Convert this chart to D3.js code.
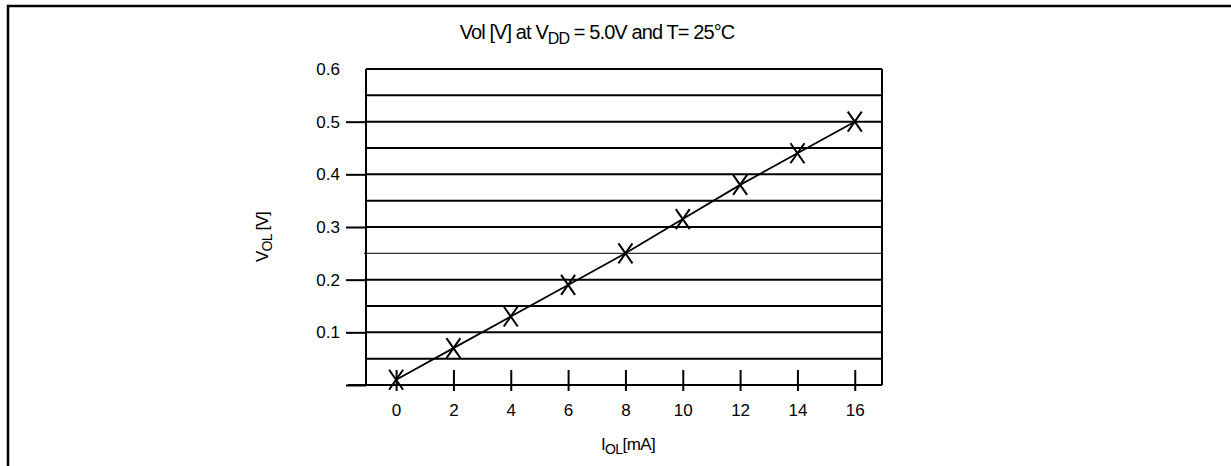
<!DOCTYPE html>
<html>
<head>
<meta charset="utf-8">
<script src="https://cdn.jsdelivr.net/npm/d3@7"></script>
<style>
  body { margin: 0; background: #fff; }
  svg { display: block; font-family: "Liberation Sans", Arial, sans-serif; }
</style>
</head>
<body>
<svg id="chart" width="1231" height="466"></svg>
<script>
// measured data: output low voltage vs sink current
const currents = [0, 2, 4, 6, 8, 10, 12, 14, 16];
const voltages = [0.01, 0.07, 0.13, 0.19, 0.25, 0.315, 0.38, 0.44, 0.5];
const yTicks = [0.1, 0.2, 0.3, 0.4, 0.5, 0.6];
const yMinor = [0.05, 0.15, 0.35, 0.45, 0.55];
const yMarked = [0.25];

const w = 1231;
const h = 466;
const plot = { left: 366, right: 882, top: 69, bottom: 385 };

const svg = d3.select('#chart');

// outer frame (cut off at the bottom and right)
svg.append('path')
  .attr('d', `M8,466 V6 H${w}`)
  .attr('fill', 'none')
  .attr('stroke', '#000')
  .attr('stroke-width', 2.5);

const x = d3.scaleLinear()
  .domain([-1.05, 16.95])
  .range([plot.left, plot.right]);
const y = d3.scaleLinear()
  .domain([0, 0.6])
  .range([plot.bottom, plot.top]);

// grid lines
svg.append('g')
  .selectAll('line')
  .data(yTicks.concat(yMinor))
  .enter()
  .append('line')
  .attr('x1', plot.left)
  .attr('x2', plot.right)
  .attr('y1', (d) => y(d))
  .attr('y2', (d) => y(d))
  .attr('stroke', '#000')
  .attr('stroke-width', 2);

svg.append('g')
  .selectAll('line')
  .data(yMarked)
  .enter()
  .append('line')
  .attr('x1', plot.left - 2)
  .attr('x2', plot.right)
  .attr('y1', (d) => y(d))
  .attr('y2', (d) => y(d))
  .attr('stroke', '#333')
  .attr('stroke-width', 1.2);

// right border
svg.append('line')
  .attr('x1', plot.right)
  .attr('x2', plot.right)
  .attr('y1', plot.top)
  .attr('y2', plot.bottom)
  .attr('stroke', '#000')
  .attr('stroke-width', 2);

// y axis
const yAxis = svg.append('g')
  .attr('transform', `translate(${plot.left}, 0)`)
  .call(d3.axisLeft(y)
    .tickValues([0].concat(yTicks.slice(0, 5)))
    .tickSize(20)
    .tickPadding(6)
    .tickFormat(() => ''));
yAxis.select('.domain').remove();
yAxis.append('line')
  .attr('y1', plot.top)
  .attr('y2', plot.bottom)
  .attr('stroke', '#000')
  .attr('stroke-width', 2);
yAxis.selectAll('.tick line').attr('stroke-width', 2);

svg.append('g')
  .selectAll('text')
  .data(yTicks)
  .enter()
  .append('text')
  .attr('x', plot.left - 26)
  .attr('y', (d) => y(d) + 6)
  .attr('text-anchor', 'end')
  .style('font-size', '17px')
  .text((d) => d3.format('.1f')(d));

// x axis
const xAxis = svg.append('g')
  .attr('transform', `translate(0, ${plot.bottom})`)
  .call(d3.axisBottom(x)
    .tickValues(currents)
    .tickSizeInner(6)
    .tickSizeOuter(0)
    .tickPadding(13)
    .tickFormat(d3.format('d')));
xAxis.select('.domain').remove();
xAxis.append('line')
  .attr('x1', plot.left - 18)
  .attr('x2', plot.right)
  .attr('stroke', '#000')
  .attr('stroke-width', 2);
xAxis.selectAll('.tick line')
  .attr('y1', -15)
  .attr('y2', 6)
  .attr('stroke-width', 2);
xAxis.selectAll('.tick text')
  .style('font-size', '17px')
  .attr('fill', '#000');

// fitted line through the points
svg.append('path')
  .datum(currents.map((c, i) => [c, voltages[i]]))
  .attr('fill', 'none')
  .attr('stroke', '#000')
  .attr('stroke-width', 1.8)
  .attr('d', d3.line()
    .x((d) => x(d[0]))
    .y((d) => y(d[1])));

// X markers
svg.append('g')
  .selectAll('path')
  .data(currents.map((c, i) => [c, voltages[i]]))
  .enter()
  .append('path')
  .attr('transform', (d) => `translate(${x(d[0])}, ${y(d[1])})`)
  .attr('d', 'M-7,-10 L7,10 M7,-10 L-7,10')
  .attr('fill', 'none')
  .attr('stroke', '#000')
  .attr('stroke-width', 2);

// title
const title = svg.append('text')
  .attr('x', 597)
  .attr('y', 39)
  .attr('text-anchor', 'middle')
  .style('font-size', '20px')
  .style('letter-spacing', '-0.9px');
title.append('tspan').text('Vol [V] at V');
title.append('tspan').attr('dy', 5).style('font-size', '16px').text('DD');
title.append('tspan').attr('dy', -5).text(' = 5.0V and T= 25°C');

// axis titles
const xTitle = svg.append('text')
  .attr('x', 628)
  .attr('y', 450)
  .attr('text-anchor', 'middle')
  .style('font-size', '17px')
  .style('letter-spacing', '-0.6px');
xTitle.append('tspan').text('I');
xTitle.append('tspan').attr('dy', 4).style('font-size', '14px').text('OL');
xTitle.append('tspan').attr('dy', -4).text('[mA]');

const yTitle = svg.append('text')
  .attr('transform', 'translate(268, 237) rotate(-90)')
  .attr('text-anchor', 'middle')
  .style('font-size', '17px')
  .style('letter-spacing', '-0.8px');
yTitle.append('tspan').text('V');
yTitle.append('tspan').attr('dy', 4).style('font-size', '14px').text('OL');
yTitle.append('tspan').attr('dy', -4).text(' [V]');
</script>
</body>
</html>
